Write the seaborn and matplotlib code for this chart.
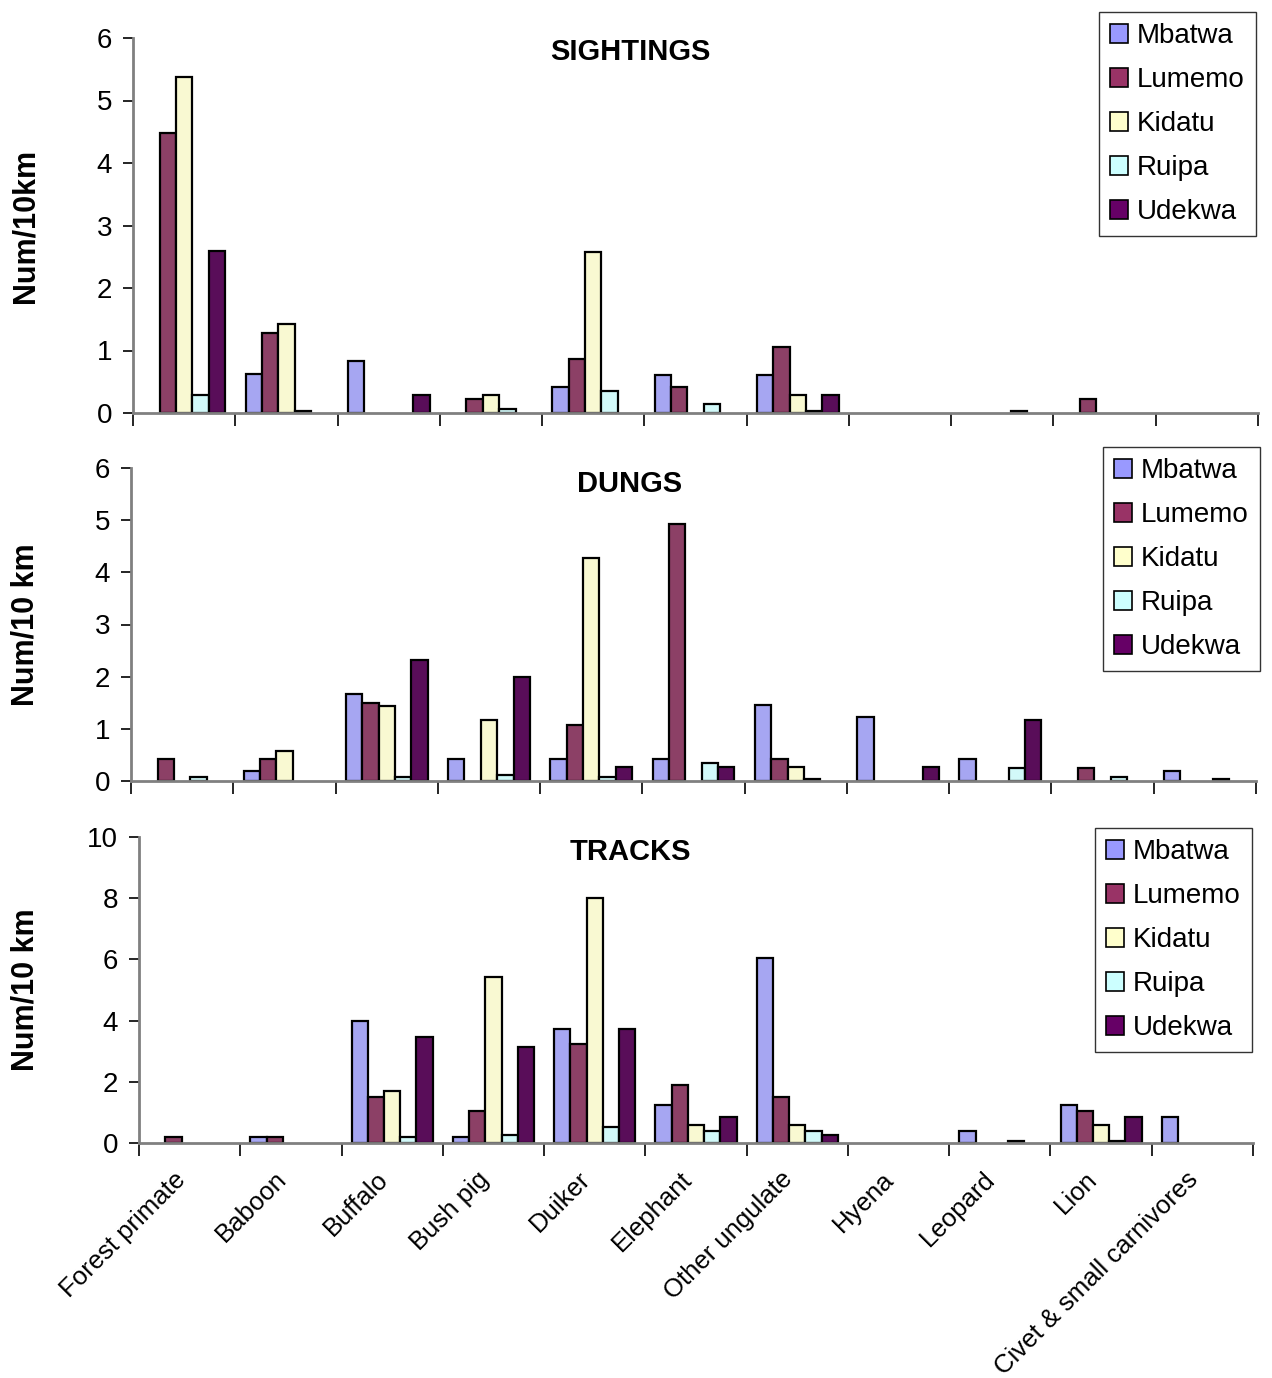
import numpy as np
import pandas as pd
import matplotlib
matplotlib.use("Agg")
import matplotlib.pyplot as plt
import matplotlib.transforms as mtransforms
from matplotlib.patches import Patch
from matplotlib.ticker import FixedLocator, NullFormatter
import seaborn as sns

# Animals surveyed along the transects
animals = ["Forest primate", "Baboon", "Buffalo", "Bush pig", "Duiker", "Elephant",
           "Other ungulate", "Hyena", "Leopard", "Lion", "Civet & small carnivores"]
sites = ["Mbatwa", "Lumemo", "Kidatu", "Ruipa", "Udekwa"]
site_colors = ["#9999FF", "#993366", "#FFFFCC", "#CCFFFF", "#660066"]

# Encounter rates (number per 10 km), one list per site, in the order of `animals`
sight_mbatwa = [0.0, 0.62, 0.84, 0.0, 0.42, 0.61, 0.61, 0.0, 0.0, 0.0, 0.0]
sight_lumemo = [4.48, 1.28, 0.0, 0.23, 0.87, 0.42, 1.06, 0.0, 0.0, 0.22, 0.0]
sight_kidatu = [5.38, 1.42, 0.0, 0.29, 2.57, 0.0, 0.29, 0.0, 0.0, 0.0, 0.0]
sight_ruipa = [0.29, 0.03, 0.0, 0.07, 0.36, 0.14, 0.03, 0.0, 0.03, 0.0, 0.0]
sight_udekwa = [2.6, 0.0, 0.29, 0.0, 0.0, 0.0, 0.29, 0.0, 0.0, 0.0, 0.0]

dung_mbatwa = [0.0, 0.2, 1.66, 0.43, 0.43, 0.43, 1.46, 1.23, 0.43, 0.0, 0.2]
dung_lumemo = [0.43, 0.43, 1.5, 0.0, 1.08, 4.92, 0.43, 0.0, 0.0, 0.24, 0.0]
dung_kidatu = [0.0, 0.58, 1.43, 1.16, 4.27, 0.0, 0.27, 0.0, 0.0, 0.0, 0.0]
dung_ruipa = [0.08, 0.0, 0.08, 0.12, 0.08, 0.35, 0.03, 0.0, 0.24, 0.08, 0.03]
dung_udekwa = [0.0, 0.0, 2.31, 2.0, 0.27, 0.27, 0.0, 0.27, 1.16, 0.0, 0.0]

track_mbatwa = [0.0, 0.2, 4.0, 0.2, 3.74, 1.25, 6.03, 0.0, 0.39, 1.24, 0.85]
track_lumemo = [0.2, 0.2, 1.5, 1.06, 3.22, 1.9, 1.5, 0.0, 0.0, 1.05, 0.0]
track_kidatu = [0.0, 0.0, 1.7, 5.44, 8.0, 0.59, 0.59, 0.0, 0.0, 0.59, 0.0]
track_ruipa = [0.0, 0.0, 0.2, 0.25, 0.51, 0.4, 0.4, 0.0, 0.05, 0.05, 0.0]
track_udekwa = [0.0, 0.0, 3.47, 3.15, 3.74, 0.85, 0.26, 0.0, 0.0, 0.85, 0.0]

panels = [
    ("SIGHTINGS", "Num/10km", [sight_mbatwa, sight_lumemo, sight_kidatu, sight_ruipa, sight_udekwa],
     [0, 1, 2, 3, 4, 5, 6], 6),
    ("DUNGS", "Num/10 km", [dung_mbatwa, dung_lumemo, dung_kidatu, dung_ruipa, dung_udekwa],
     [0, 1, 2, 3, 4, 5, 6], 6),
    ("TRACKS", "Num/10 km", [track_mbatwa, track_lumemo, track_kidatu, track_ruipa, track_udekwa],
     [0, 2, 4, 6, 8, 10], 10),
]

sns.set_style("white")
plt.rcParams["font.family"] = ["Liberation Sans", "DejaVu Sans"]
plt.rcParams["text.color"] = "black"
plt.rcParams["xtick.color"] = "black"
plt.rcParams["ytick.color"] = "black"
plt.rcParams["axes.labelcolor"] = "black"

W, H = 1272, 1378
fig = plt.figure(figsize=(W / 100, H / 100), dpi=100)

# axes boxes in pixels: left, right, top, bottom
boxes = [(133, 1258, 38, 413), (131, 1256, 468, 781), (139, 1253, 837, 1143)]
legend_anchor = [(1256, 12), (1260, 447), (1252, 828)]
title_y = [52, 484, 852]

for i, (title, ylab, series, yticks, ymax) in enumerate(panels):
    l, r, t, b = boxes[i]
    ax = fig.add_axes([l / W, 1 - b / H, (r - l) / W, (b - t) / H])
    df = pd.DataFrame({
        "animal": np.repeat(animals, len(sites)),
        "site": sites * len(animals),
        "value": np.array(series).T.ravel(),
    })
    sns.barplot(data=df, x="animal", y="value", hue="site", order=animals,
                hue_order=sites, palette=site_colors, width=0.8, errorbar=None,
                edgecolor="black", linewidth=1.6, legend=False, ax=ax, zorder=3)
    for p in ax.patches:
        if p.get_height() == 0:
            p.set_visible(False)

    ax.set_xlim(-0.5, len(animals) - 0.5)
    ax.set_ylim(0, ymax)
    ax.set_yticks(yticks)
    ax.tick_params(axis="y", direction="out", length=7, width=1.2, colors="black",
                   labelsize=20, pad=8, left=True)
    ax.xaxis.set_minor_locator(FixedLocator(np.arange(-0.5, len(animals), 1.0)))
    ax.xaxis.set_minor_formatter(NullFormatter())
    ax.tick_params(axis="x", which="minor", direction="out", length=9, width=1.2,
                   colors="black", bottom=True)
    ax.tick_params(axis="x", which="major", length=0)
    for s in ["top", "right"]:
        ax.spines[s].set_visible(False)
    for s in ["left", "bottom"]:
        ax.spines[s].set_color("#808080")
        ax.spines[s].set_linewidth(2)
        ax.spines[s].set_zorder(4)

    ax.set_xlabel("")
    if i < 2:
        ax.set_xticklabels([])
    else:
        ax.set_xticks(range(len(animals)))
        ax.set_xticklabels(animals, rotation=45, ha="right", va="center",
                           rotation_mode="anchor", fontsize=18.5, color="black")
        ax.tick_params(axis="x", which="major", pad=22)
        shift = mtransforms.ScaledTranslation(-8 / 100, -2 / 100, fig.dpi_scale_trans)
        for lab in ax.get_xticklabels():
            lab.set_transform(lab.get_transform() + shift)

    ax.set_ylabel(ylab, fontsize=22, fontweight="bold", color="black")
    ax.yaxis.set_label_coords(40 / W, 1 - ((t + b) / 2) / H, transform=fig.transFigure)

    ax.text(630 / W, 1 - title_y[i] / H, title, transform=fig.transFigure,
            ha="center", va="center", fontsize=21, fontweight="bold", color="black")

    handles = [Patch(facecolor=c, edgecolor="black", linewidth=1.2, label=s)
               for s, c in zip(sites, site_colors)]
    ax_, ay_ = legend_anchor[i]
    leg = ax.legend(handles=handles, loc="upper right",
                    bbox_to_anchor=(ax_ / W, 1 - ay_ / H),
                    bbox_transform=fig.transFigure, fontsize=20, frameon=True,
                    fancybox=False, shadow=False, handlelength=0.65,
                    handleheight=0.65, handletextpad=0.32, labelspacing=0.65,
                    borderpad=0.4, borderaxespad=0, labelcolor="black")
    leg.get_frame().set_edgecolor("black")
    leg.get_frame().set_linewidth(1.0)
    leg.set_zorder(10)

fig.savefig("out.png", dpi=100, facecolor="white")
